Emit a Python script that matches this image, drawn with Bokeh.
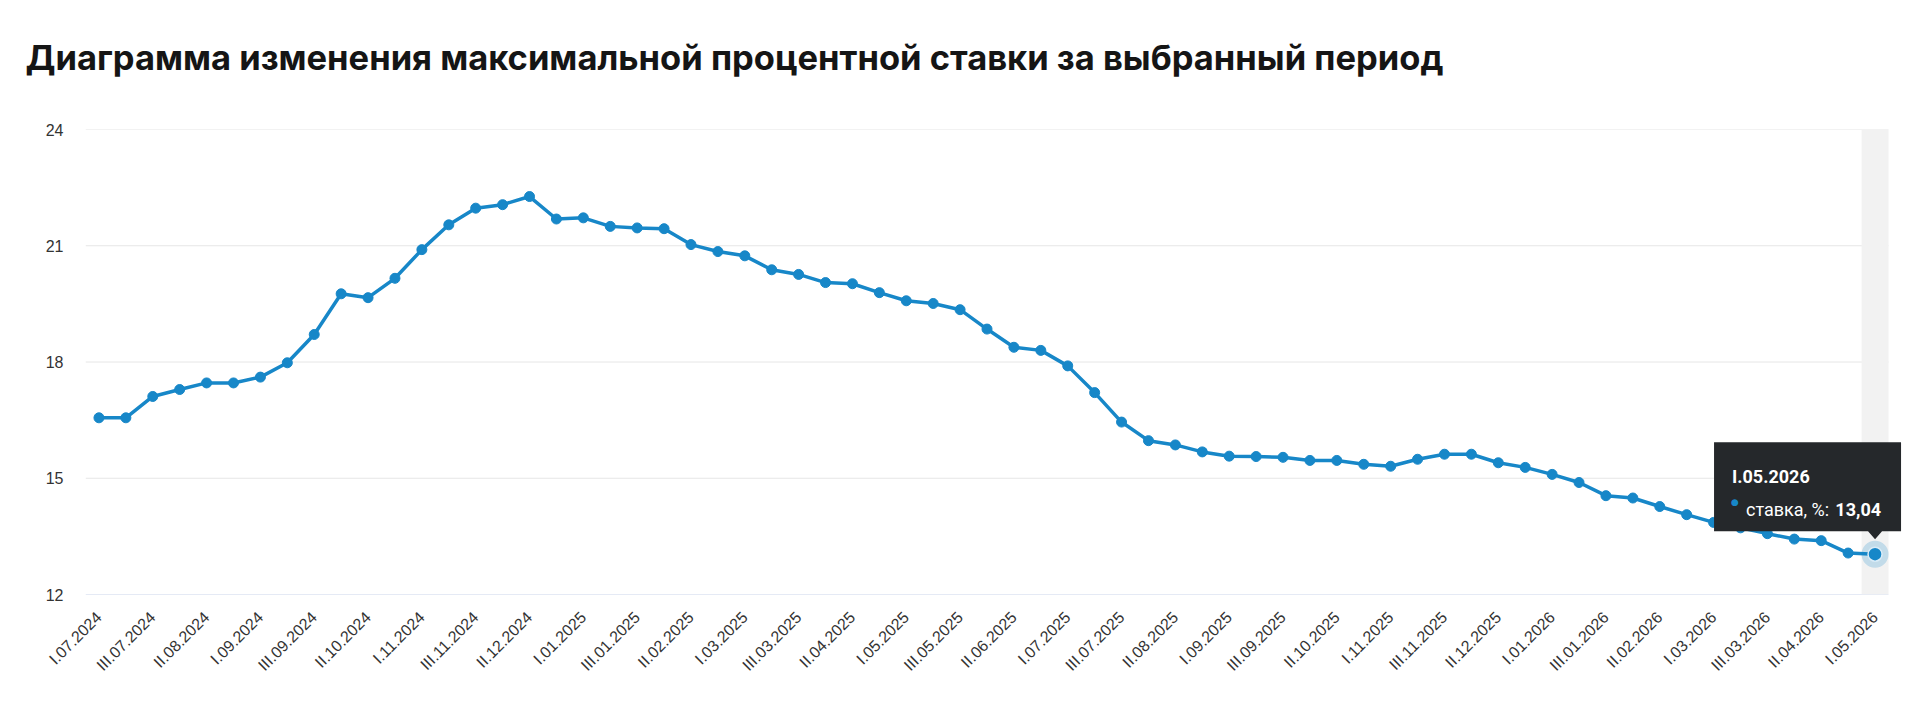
import math
from bokeh.plotting import figure
from bokeh.models import Range1d, FixedTicker, Label, PolyAnnotation, Title
from bokeh.embed import file_html
from bokeh.resources import INLINE

title = "Диаграмма изменения максимальной процентной ставки за выбранный период"
series_name = "ставка, %"

periods = [
    "I.07.2024", "II.07.2024", "III.07.2024", "I.08.2024", "II.08.2024", "III.08.2024",
    "I.09.2024", "II.09.2024", "III.09.2024", "I.10.2024", "II.10.2024", "III.10.2024",
    "I.11.2024", "II.11.2024", "III.11.2024", "I.12.2024", "II.12.2024", "III.12.2024",
    "I.01.2025", "II.01.2025", "III.01.2025", "I.02.2025", "II.02.2025", "III.02.2025",
    "I.03.2025", "II.03.2025", "III.03.2025", "I.04.2025", "II.04.2025", "III.04.2025",
    "I.05.2025", "II.05.2025", "III.05.2025", "I.06.2025", "II.06.2025", "III.06.2025",
    "I.07.2025", "II.07.2025", "III.07.2025", "I.08.2025", "II.08.2025", "III.08.2025",
    "I.09.2025", "II.09.2025", "III.09.2025", "I.10.2025", "II.10.2025", "III.10.2025",
    "I.11.2025", "II.11.2025", "III.11.2025", "I.12.2025", "II.12.2025", "III.12.2025",
    "I.01.2026", "II.01.2026", "III.01.2026", "I.02.2026", "II.02.2026", "III.02.2026",
    "I.03.2026", "II.03.2026", "III.03.2026", "I.04.2026", "II.04.2026", "III.04.2026",
    "I.05.2026",
]

rates = [
    16.56, 16.56, 17.11, 17.29, 17.46, 17.46, 17.61, 17.98, 18.71, 19.76,
    19.66, 20.16, 20.90, 21.54, 21.97, 22.06, 22.27, 21.69, 21.72, 21.50,
    21.46, 21.44, 21.03, 20.85, 20.74, 20.38, 20.26, 20.05, 20.02, 19.79,
    19.58, 19.51, 19.35, 18.85, 18.38, 18.30, 17.90, 17.21, 16.45, 15.97,
    15.86, 15.68, 15.57, 15.56, 15.54, 15.46, 15.46, 15.36, 15.31, 15.49,
    15.62, 15.62, 15.40, 15.28, 15.10, 14.89, 14.55, 14.49, 14.27, 14.06,
    13.86, 13.72, 13.57, 13.43, 13.39, 13.07, 13.04,
]

y_ticks = [12, 15, 18, 21, 24]

BLUE = "#1787c8"
W, H = 1916, 700
b_left, b_top, b_bottom = 85, 129, 106
cat_px = 1803      # width taken by the categories
extra_px = 14      # room for the tooltip past the last category
b_right = W - b_left - cat_px - extra_px

xs = list(range(len(periods)))
tick_idx = xs[::2]
kx = cat_px / len(periods)
x0, x_end = -0.5, len(periods) - 0.5
x1 = x_end + extra_px / kx
y0, y1 = y_ticks[0], y_ticks[-1]

p = figure(width=W, height=H, x_range=Range1d(x0, x1), y_range=Range1d(y0, y1),
           output_backend="svg", toolbar_location=None,
           min_border_left=b_left, min_border_right=b_right,
           min_border_top=b_top, min_border_bottom=b_bottom)
p.outline_line_color = None
p.background_fill_color = "white"

p.title.text = title
p.title.text_font = "Inter"
p.title.text_font_size = "34.5px"
p.title.text_font_style = "bold"
p.title.text_color = "#151515"
p.title.align = "left"
p.title.offset = -60
p.title.standoff = 10

# blank title used only as a spacer between the title and the plot area
p.add_layout(Title(text=" ", text_font_size="10px", standoff=34), "above")

p.xgrid.grid_line_color = None
p.ygrid.grid_line_color = None

ya = p.left[0]
ya.ticker = FixedTicker(ticks=y_ticks)
ya.axis_line_color = None
ya.major_tick_line_color = None
ya.minor_tick_line_color = None
ya.major_tick_out = 0
ya.major_tick_in = 0
ya.major_label_standoff = 22
ya.major_label_text_font = "Liberation Sans"
ya.major_label_text_font_size = "16px"
ya.major_label_text_color = "#333333"

xa = p.below[0]
xa.ticker = FixedTicker(ticks=tick_idx)
xa.major_label_overrides = {i: periods[i] for i in tick_idx}
xa.major_label_orientation = math.pi / 4
xa.axis_line_color = None
xa.major_tick_line_color = None
xa.minor_tick_line_color = None
xa.major_tick_out = 0
xa.major_tick_in = 0
xa.major_label_standoff = 20
xa.major_label_text_font = "Liberation Sans"
xa.major_label_text_font_size = "16px"
xa.major_label_text_color = "#333333"

# grid lines stop at the last category, not at the frame edge
p.segment(x0=[x0] * (len(y_ticks) - 1), x1=[x_end] * (len(y_ticks) - 1),
          y0=y_ticks[1:], y1=y_ticks[1:], line_color="#e6e6e6", line_width=1,
          level="underlay")
p.segment(x0=[x0], x1=[x_end], y0=[y0], y1=[y0], line_color="#ccd6eb",
          line_width=1, level="underlay")

# hovered column band
p.vbar(x=[xs[-1]], width=1, bottom=y0, top=y1, fill_color="#f2f2f2",
       line_color=None, level="underlay")

p.line(xs, rates, line_color=BLUE, line_width=3.5)
p.scatter(xs, rates, size=10, fill_color=BLUE, line_color=BLUE)
p.scatter([xs[-1]], [rates[-1]], size=27, fill_color=BLUE, fill_alpha=0.22, line_color=None)
p.scatter([xs[-1]], [rates[-1]], size=14, fill_color=BLUE, line_color="#d9ecf8", line_width=1.5)

# tooltip anchored to the last point
fh = H - b_top - b_bottom
ky = fh / (y1 - y0)
xl, yl = xs[-1], rates[-1]


def ax(px):
    return xl + px / kx


def ay(px):
    return yl + px / ky


tip = PolyAnnotation(
    xs=[ax(-161), ax(26), ax(26), ax(7), ax(0), ax(-7), ax(-161)],
    ys=[ay(112), ay(112), ay(23), ay(23), ay(15), ay(23), ay(23)],
    fill_color="#25282b", fill_alpha=1.0, line_color=None)
p.add_layout(tip)

p.add_layout(Label(x=xl, y=yl, x_offset=-143, y_offset=78, text=periods[-1],
                   text_font="Roboto", text_font_style="bold", text_font_size="18px",
                   text_color="white", text_align="left", text_baseline="alphabetic"))
p.add_layout(Label(x=xl, y=yl, x_offset=-140, y_offset=52, text="●",
                   text_font="DejaVu Sans", text_font_size="9px",
                   text_color=BLUE, text_align="center", text_baseline="middle"))
p.add_layout(Label(x=xl, y=yl, x_offset=-129, y_offset=45, text=series_name + ":",
                   text_font="Roboto", text_font_size="18px",
                   text_color="white", text_align="left", text_baseline="alphabetic"))
p.add_layout(Label(x=xl, y=yl, x_offset=6, y_offset=45,
                   text=f"{rates[-1]:.2f}".replace(".", ","),
                   text_font="Roboto", text_font_style="bold", text_font_size="18px",
                   text_color="white", text_align="right", text_baseline="alphabetic"))

open("out.html", "w").write(file_html(p, INLINE))
